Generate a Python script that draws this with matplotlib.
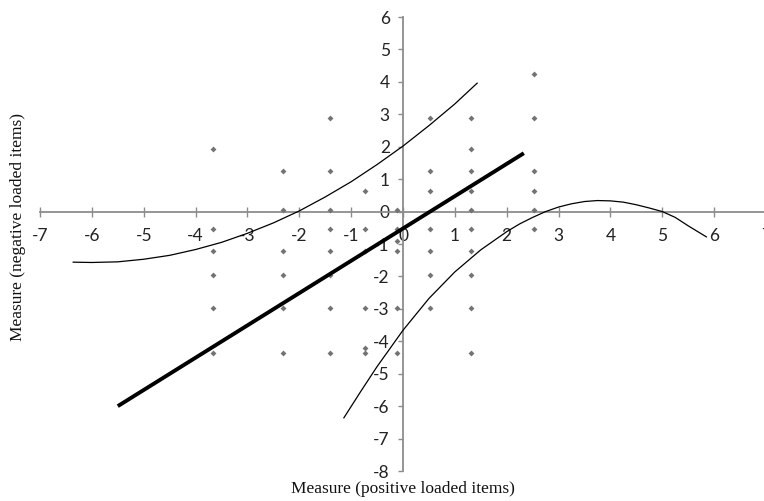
import matplotlib
matplotlib.use("Agg")
import matplotlib.pyplot as plt

# Scatter data (measure positive, measure negative)
pos_x = [-3.67]*6 + [-2.32]*6 + [-1.40]*8 + [-0.73]*6 + [-0.12]*6 + [0.53]*7 + [1.31]*10 + [2.52]*6
neg_y = ([1.92, -0.55, -1.21, -1.96, -2.96, -4.35] +
         [1.24, 0.05, -1.21, -1.96, -2.96, -4.35] +
         [2.88, 1.24, 0.05, -0.55, -1.21, -1.96, -2.96, -4.35] +
         [0.64, -0.55, -1.21, -2.96, -4.20, -4.35] +
         [0.05, -0.55, -0.91, -1.21, -2.96, -4.35] +
         [2.88, 1.24, 0.64, -0.55, -1.21, -1.96, -2.96] +
         [2.88, 1.92, 1.24, 0.64, 0.05, -0.55, -1.21, -1.96, -2.96, -4.35] +
         [4.24, 2.88, 1.24, 0.64, 0.05, -0.55])

# Thick line
line_x = [-5.5, 2.33]
line_y = [-6.0, 1.8]

# Upper control curve
upper_x = [-6.36, -6.0, -5.5, -5.0, -4.5, -4.0, -3.5, -3.0, -2.5, -2.0, -1.5, -1.0, -0.5, 0.0, 0.5, 1.0, 1.43]
upper_y = [-1.56, -1.57, -1.55, -1.47, -1.35, -1.17, -0.95, -0.67, -0.35, 0.02, 0.45, 0.92, 1.45, 2.02, 2.65, 3.32, 3.96]

# Lower control curve
lower_x = [-1.14, -0.8, -0.5, 0.0, 0.5, 1.0, 1.5, 2.0, 2.25, 2.5, 2.75, 3.0, 3.25, 3.5, 3.75, 4.0,
           4.25, 4.5, 4.75, 5.0, 5.25, 5.5, 5.85]
lower_y = [-6.36, -5.51, -4.78, -3.66, -2.68, -1.86, -1.18, -0.62, -0.38, -0.18, 0.0, 0.14, 0.24,
           0.31, 0.34, 0.33, 0.29, 0.21, 0.11, 0.0, -0.18, -0.44, -0.78]

x_ticks = list(range(-7, 8))
y_ticks = list(range(-8, 7))

W, H = 764, 501
fig = plt.figure(figsize=(W/100, H/100), dpi=100)
x0, x1 = 40, 766
y_top, y_bot = 17, 471
ax = fig.add_axes([x0/W, (H - y_bot)/H, (x1 - x0)/W, (y_bot - y_top)/H])
ax.set_xlim(-7, 7)
ax.set_ylim(-8, 6)

ax.scatter(pos_x, neg_y, s=9, marker='D', color='#737373', linewidths=0, zorder=3)
ax.plot(upper_x, upper_y, color='black', lw=0.9, zorder=4)
ax.plot(lower_x, lower_y, color='black', lw=0.9, zorder=4)
ax.plot(line_x, line_y, color='black', lw=2.8, solid_capstyle='butt', zorder=5)

for s in ['top', 'right']:
    ax.spines[s].set_visible(False)
ax.spines['left'].set_position(('data', 0))
ax.spines['bottom'].set_position(('data', 0))
for s in ['left', 'bottom']:
    ax.spines[s].set_color('#8c8c8c')
    ax.spines[s].set_linewidth(1.3)

ax.set_xticks(x_ticks)
ax.set_yticks(y_ticks)
ax.set_xticklabels([str(v) for v in x_ticks])
ax.set_yticklabels([str(v) for v in y_ticks])
ax.tick_params(axis='x', direction='inout', length=7, width=1.0, color='#8c8c8c', pad=8,
               labelsize=12.5, labelcolor='#222222')
ax.tick_params(axis='y', direction='out', length=3.5, width=1.0, color='#8c8c8c', pad=6,
               labelsize=12.5, labelcolor='#222222')
for lab in ax.get_xticklabels() + ax.get_yticklabels():
    lab.set_family(['Lato', 'DejaVu Sans'])

fig.text(403/W, 1 - 489/H, 'Measure (positive loaded items)', ha='center', va='center',
         family='Liberation Serif', fontsize=12.5, color='#111111')
fig.text(18/W, 1 - 227/H, 'Measure (negative loaded items)', ha='center', va='center',
         rotation=90, family='Liberation Serif', fontsize=12.5, color='#111111')

fig.savefig('out.png', dpi=100)
